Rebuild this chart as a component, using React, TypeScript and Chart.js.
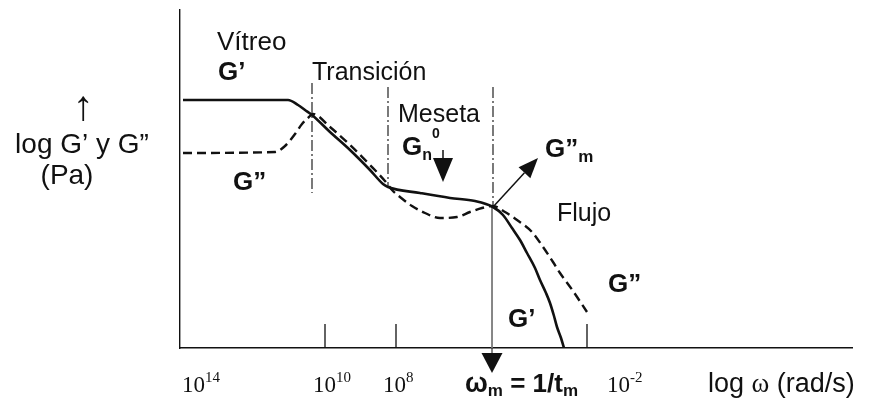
import React, { useEffect, useRef } from 'react';
import { Chart, registerables } from 'chart.js';

Chart.register(...registerables);

// Schematic units: x = position along the log ω axis (0 = 10^14 end), y = log G level (0 = axis)
const gPrimeX = [3, 108, 118, 125, 132, 150, 170, 190, 203, 208, 240, 270, 295, 313, 323, 332, 340, 347, 355, 360, 366, 370, 374, 377, 381, 384];
const gPrimeY = [248, 248, 243, 238, 233, 216, 198, 178, 164, 161, 155, 150, 147, 141, 133, 120, 108, 95, 80, 68, 55, 45, 32, 21, 10, 0];

const gDoubleX = [3, 95, 105, 115, 122, 128, 133, 150, 170, 190, 205, 212, 220, 232, 245, 260, 277, 290, 302, 313, 325, 337, 352, 363, 373, 380, 393, 407];
const gDoubleY = [195, 196, 202, 214, 224, 230, 234, 221, 203, 183, 167, 158, 151, 142, 135, 130, 131, 136, 140, 142, 136, 128, 116, 101, 86, 75, 57, 36];

// Region separators (vítreo | transición | meseta | flujo)
const sepX = [132, 208, 313];
const sepTop = [265, 261, 261];
const sepBottom = [155, 160, 141];

// Axis tick marks
const tickX = [145, 216, 407];
const tickLen = 24;

// Tick labels
const tickBase = ['10', '10', '10', '10'];
const tickExp = ['14', '10', '8', '-2'];

const SANS = '"Liberation Sans", Arial, Helvetica, sans-serif';
const SERIF = '"Liberation Serif", "Times New Roman", serif';

type Seg = { t: string; size: number; bold?: boolean; serif?: boolean; dy?: number };
type Lbl = { x: number; y: number; align?: 'left' | 'center'; segs: Seg[] };

const tickLabelX = [2, 133, 203, 427];
const tickLabelY = -44;

const labels: Lbl[] = [
  { x: 37, y: 298, segs: [{ t: 'Vítreo', size: 26 }] },
  { x: 38, y: 268, segs: [{ t: 'G’', size: 26, bold: true }] },
  { x: 132, y: 268, segs: [{ t: 'Transición', size: 25 }] },
  { x: 218, y: 226, segs: [{ t: 'Meseta', size: 25 }] },
  { x: 222, y: 193, segs: [{ t: 'G', size: 26, bold: true }, { t: 'n', size: 16, bold: true, dy: 5 }, { t: '0', size: 14, bold: true, dy: -17 }] },
  { x: 365, y: 191, segs: [{ t: 'G”', size: 26, bold: true }, { t: 'm', size: 17, bold: true, dy: 5 }] },
  { x: 377, y: 127, segs: [{ t: 'Flujo', size: 25 }] },
  { x: 53, y: 158, segs: [{ t: 'G”', size: 26, bold: true }] },
  { x: 428, y: 56, segs: [{ t: 'G”', size: 26, bold: true }] },
  { x: 328, y: 21, segs: [{ t: 'G’', size: 26, bold: true }] },
  { x: -97, y: 228, align: 'center', segs: [{ t: '↑', size: 42 }] },
  { x: -98, y: 195, align: 'center', segs: [{ t: 'log G’ y G”', size: 28 }] },
  { x: -113, y: 164, align: 'center', segs: [{ t: '(Pa)', size: 28 }] },
  { x: 285, y: tickLabelY, segs: [{ t: 'ω', size: 27, bold: true }, { t: 'm', size: 17, bold: true, dy: 4 }, { t: ' = 1/t', size: 26, bold: true }, { t: 'm', size: 17, bold: true, dy: 4 }] },
  { x: 528, y: tickLabelY, segs: [{ t: 'log ', size: 27 }, { t: 'ω', size: 27, serif: true }, { t: ' (rad/s)', size: 27 }] },
];

type Arrow = { from: [number, number]; to: [number, number]; head: number; width: number; lw: number };
const arrows: Arrow[] = [
  { from: [263, 198], to: [263, 166], head: 24, width: 20, lw: 1.5 },
  { from: [313, 141], to: [358, 190], head: 20, width: 16, lw: 1.5 },
  { from: [312, 0], to: [312, -25], head: 20, width: 21, lw: 1 },
];

const pts = (xs: number[], ys: number[]) => xs.map((x, i) => ({ x, y: ys[i] }));

const segsWithGaps = (xs: number[], y0: number[], y1: number[]) => {
  const out: { x: number; y: number | null }[] = [];
  xs.forEach((x, i) => {
    out.push({ x, y: y0[i] });
    out.push({ x, y: y1[i] });
    out.push({ x, y: null });
  });
  return out;
};

const annotPlugin = {
  id: 'annot',
  afterDatasetsDraw(chart: any) {
    const { ctx, scales } = chart;
    const sx = (v: number) => scales.x.getPixelForValue(v);
    const sy = (v: number) => scales.y.getPixelForValue(v);
    ctx.save();
    // arrows
    arrows.forEach((a) => {
      const x0 = sx(a.from[0]), y0 = sy(a.from[1]);
      const x1 = sx(a.to[0]), y1 = sy(a.to[1]);
      const dx = x1 - x0, dy = y1 - y0;
      const L = Math.hypot(dx, dy);
      const ux = dx / L, uy = dy / L;
      const bx = x1 - ux * a.head, by = y1 - uy * a.head;
      ctx.strokeStyle = '#111';
      ctx.lineWidth = a.lw;
      ctx.beginPath();
      ctx.moveTo(x0, y0);
      ctx.lineTo(bx, by);
      ctx.stroke();
      ctx.fillStyle = '#111';
      ctx.beginPath();
      ctx.moveTo(x1, y1);
      ctx.lineTo(bx - uy * a.width / 2, by + ux * a.width / 2);
      ctx.lineTo(bx + uy * a.width / 2, by - ux * a.width / 2);
      ctx.closePath();
      ctx.fill();
    });
    // text
    const fontOf = (s: Seg) => `${s.bold ? 'bold ' : ''}${s.size}px ${s.serif ? SERIF : SANS}`;
    const drawLbl = (l: Lbl) => {
      ctx.textBaseline = 'alphabetic';
      ctx.textAlign = 'left';
      let total = 0;
      l.segs.forEach((s) => { ctx.font = fontOf(s); total += ctx.measureText(s.t).width; });
      let x = sx(l.x) - (l.align === 'center' ? total / 2 : 0);
      const y = sy(l.y);
      l.segs.forEach((s) => {
        ctx.font = fontOf(s);
        ctx.fillStyle = '#111';
        ctx.fillText(s.t, x, y + (s.dy || 0));
        x += ctx.measureText(s.t).width;
      });
    };
    labels.forEach(drawLbl);
    tickBase.forEach((b, i) => {
      drawLbl({ x: tickLabelX[i], y: tickLabelY, segs: [{ t: b, size: 23, serif: true }, { t: tickExp[i], size: 15, serif: true, dy: -10 }] });
    });
    ctx.restore();
  },
};

export default function App() {
  const ref = useRef<HTMLCanvasElement>(null);
  useEffect(() => {
    const chart = new Chart(ref.current!, {
      type: 'line',
      data: {
        datasets: [
          {
            label: "G'",
            data: pts(gPrimeX, gPrimeY),
            borderColor: '#111',
            borderWidth: 2.6,
            cubicInterpolationMode: 'monotone',
            pointRadius: 0,
          },
          {
            label: 'G"',
            data: pts(gDoubleX, gDoubleY),
            borderColor: '#111',
            borderWidth: 2.4,
            borderDash: [9, 5],
            cubicInterpolationMode: 'monotone',
            pointRadius: 0,
          },
          {
            label: 'separators',
            data: segsWithGaps(sepX, sepTop, sepBottom),
            borderColor: '#222',
            borderWidth: 1.2,
            borderDash: [11, 3, 2, 3],
            pointRadius: 0,
            spanGaps: false,
          },
          {
            label: 'wm',
            data: [{ x: 312, y: 141 }, { x: 312, y: 0 }],
            borderColor: '#777',
            borderWidth: 1,
            pointRadius: 0,
          },
          {
            label: 'ticks',
            data: segsWithGaps(tickX, tickX.map(() => 0), tickX.map(() => tickLen)),
            borderColor: '#111',
            borderWidth: 1.3,
            pointRadius: 0,
            spanGaps: false,
          },
        ],
      } as any,
      options: {
        responsive: false,
        animation: false,
        layout: { padding: { left: 180, right: 19, top: 10, bottom: 58 } },
        plugins: { legend: { display: false }, tooltip: { enabled: false } },
        scales: {
          x: {
            type: 'linear', min: 0, max: 672,
            grid: { display: false, drawTicks: false },
            ticks: { display: false },
            border: { display: true, color: '#111', width: 1.6 },
          },
          y: {
            type: 'linear', min: 0, max: 338,
            grid: { display: false, drawTicks: false },
            ticks: { display: false },
            border: { display: true, color: '#111', width: 1.4 },
          },
        },
      } as any,
      plugins: [annotPlugin],
    });
    return () => chart.destroy();
  }, []);
  return (
    <div style={{ position: 'fixed', left: 0, top: 0, width: 871, height: 406, background: '#fff' }}>
      <canvas ref={ref} width={871} height={406} style={{ display: 'block' }} />
    </div>
  );
}
